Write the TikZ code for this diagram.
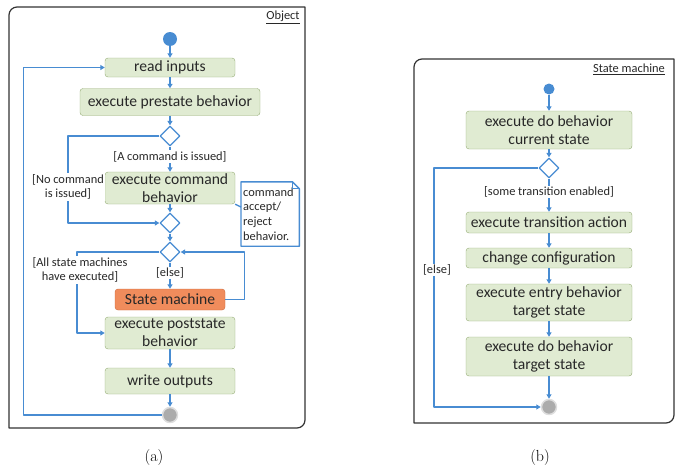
\documentclass[tikz,border=0pt]{standalone}
\usepackage{fontspec}
\newfontfamily\calibri{Carlito}
\usetikzlibrary{shapes.geometric,arrows.meta,calc}
\definecolor{flowblue}{RGB}{72,140,210}
\definecolor{boxgreen}{RGB}{224,235,210}
\definecolor{boxline}{RGB}{150,172,118}
\definecolor{smorange}{RGB}{240,140,92}
\definecolor{smline}{RGB}{205,105,60}
\definecolor{fingray}{RGB}{172,172,172}
\definecolor{txtgray}{RGB}{40,40,40}
\tikzset{
  box/.style={draw=boxline, fill=boxgreen, rounded corners=3, inner sep=0, minimum width=130,
    align=center, text=txtgray, font=\calibri\fontsize{15.6}{18.2}\selectfont},
  smbox/.style={box, draw=smline, fill=smorange},
  decision/.style={diamond, draw=flowblue, fill=white, line width=1.3, inner sep=0, minimum width=20, minimum height=20},
  initial/.style={circle, fill=flowblue, inner sep=0},
  final/.style={circle, fill=fingray, draw=fingray!40, line width=1.5, inner sep=0, minimum size=15},
  flow/.style={draw=flowblue, line width=1.4, -{Triangle[length=4.5,width=5]}},
  lbl/.style={fill=white, inner sep=1, align=center, text=txtgray, font=\calibri\fontsize{12.4}{14.6}\selectfont},
  frame/.style={draw=black!80, line width=1.2},
}
\begin{document}
\begin{tikzpicture}[x=1pt, y=-1pt, line join=round]
\useasboundingbox (0,0) rectangle (685,466);

% (a) Object
\draw[frame] (9,428) -- (9,15) arc[start angle=180,end angle=270,radius=8] -- (305,7) -- (305,420) arc[start angle=0,end angle=90,radius=8] -- cycle;
\node[lbl, inner sep=0] (objtitle) at (283,17) {\underline{Object}};

\node[initial, minimum size=14] (start) at (170,39) {};
\node[box, minimum height=19] (read) at (170,67.5) {read inputs};
\node[box, minimum width=180, minimum height=27] (pre) at (170,102) {execute prestate behavior};
\node[decision] (d1) at (170,136) {};
\node[box, minimum height=32] (cmd) at (170,188) {execute command\\behavior};
\node[decision] (d2) at (170,223) {};
\node[decision] (d3) at (170,252) {};
\node[smbox, minimum width=110, minimum height=21] (sm) at (170,299.5) {State machine};
\node[box, minimum height=32] (post) at (170,333) {execute poststate\\behavior};
\node[box, minimum height=26] (out) at (170,381) {write outputs};
\node[final] (fin) at (170,415) {};

% note
\node[lbl, fill=none, align=left, text width=54, minimum height=64, inner sep=2, anchor=west] (note) at (241,214) {command\\accept/\\reject\\behavior.};
\draw[draw=flowblue, line width=1.4] (note.north west) -- ($(note.north east)+(-7,0)$) -- ($(note.north east)+(0,7)$) -- (note.south east) -- (note.south west) -- cycle;
\draw[draw=flowblue, line width=1] ($(note.north east)+(-7,0)$) -- ($(note.north east)+(-7,7)$) -- ($(note.north east)+(0,7)$);
\coordinate (notein) at (241,207);
\draw[draw=flowblue, line width=1.4] (cmd.south east) -- (notein);

\coordinate (nocmd) at (68,187);
\coordinate (allsm) at (77,270);
\draw[flow] (start) -- (read);
\draw[flow] (read) -- (pre);
\draw[flow] (pre) -- (d1);
\draw[flow] (d1) -- node[lbl, pos=0.4]{[A command is issued]} (cmd);
\draw[flow] (d1.west) -| (nocmd) node[lbl]{[No command\\is issued]} |- (d2.west);
\draw[flow] (cmd) -- (d2);
\draw[flow] (d2) -- (d3);
\draw[flow] (d3) -- node[lbl, pos=0.4]{[else]} (sm);
\draw[flow] (sm.east) -- ++(19,0) |- (d3.east);
\draw[flow] (d3.west) -| (allsm) node[lbl, xshift=3]{[All state machines\\have executed]} |- (post.west);
\draw[flow] (post) -- (out);
\draw[flow] (out) -- (fin);
\draw[flow] (fin.west) -- ++(-138,0) |- (read.west);

% (b) State machine
\draw[frame] (414,423) -- (414,67) arc[start angle=180,end angle=270,radius=8] -- (674,59) -- (674,415) arc[start angle=0,end angle=90,radius=8] -- cycle;
\node[lbl, inner sep=0] (smtitle) at (629,69) {\underline{State machine}};

\node[initial, minimum size=11] (rstart) at (549,89) {};
\node[box, minimum width=166, minimum height=38] (docur) at (549,130) {execute do behavior\\current state};
\node[decision] (rd) at (549,168) {};
\node[box, minimum width=166, minimum height=21] (trans) at (549,222.5) {execute transition action};
\node[box, minimum width=166, minimum height=20] (conf) at (549,258) {change configuration};
\node[box, minimum width=166, minimum height=37] (entry) at (549,302.5) {execute entry behavior\\target state};
\node[box, minimum width=166, minimum height=39] (dotgt) at (549,356.5) {execute do behavior\\target state};
\node[final] (rfin) at (549,407) {};

\coordinate (relse) at (434,270);
\draw[flow] (rstart) -- (docur);
\draw[flow] (docur) -- (rd);
\draw[flow] (rd) -- node[lbl, pos=0.4]{[some transition enabled]} (trans);
\draw[flow] (trans) -- (conf);
\draw[flow] (conf) -- (entry);
\draw[flow] (entry) -- (dotgt);
\draw[flow] (dotgt) -- (rfin);
\draw[flow] (rd.west) -| (relse) node[lbl, xshift=3]{[else]} |- (rfin.west);

% captions
\node[font=\fontsize{16}{18}\selectfont] (capa) at (154,458) {(a)};
\node[font=\fontsize{16}{18}\selectfont] (capb) at (540,458) {(b)};
\end{tikzpicture}
\end{document}
